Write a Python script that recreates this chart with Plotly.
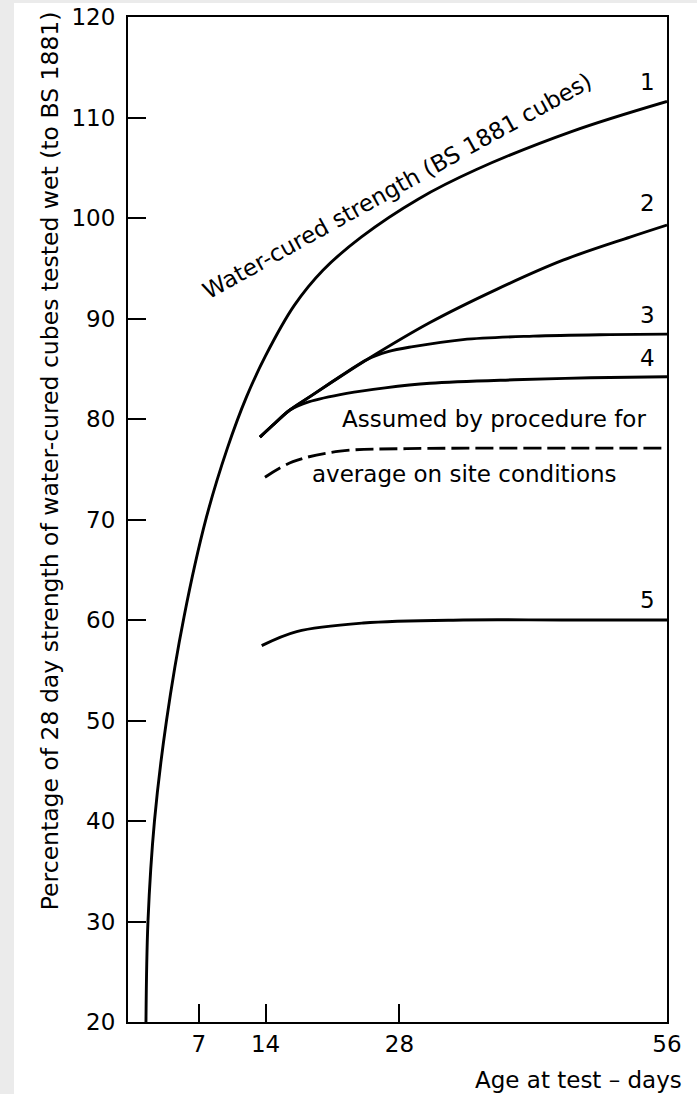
import plotly.graph_objects as go

# ---- data ----
# Curve 1: water-cured strength
c1_days = [1.48, 1.69, 2.37, 3.63, 5.46, 7.8, 10.0, 12.0, 14.0, 17.0, 20.0, 24.0, 30.0, 36.0, 46.0, 56.0]
c1_vals = [20.0, 30.0, 40.0, 50.0, 60.3, 70.2, 77.1, 82.2, 86.3, 91.3, 94.8, 98.1, 101.9, 104.8, 108.6, 111.6]

# Curve 2
c2_days = [13.41, 15.0, 16.55, 18.6, 20.74, 24.58, 31.2, 38.18, 45.12, 52.13, 56.0]
c2_vals = [78.2, 79.6, 80.9, 82.2, 83.55, 85.9, 89.6, 92.9, 95.8, 98.1, 99.3]

# Curve 3
c3_days = [13.41, 15.0, 16.55, 18.6, 20.74, 24.58, 26.8, 29.42, 34.65, 42.0, 50.0, 56.0]
c3_vals = [78.2, 79.6, 80.9, 82.2, 83.55, 85.9, 86.7, 87.2, 87.9, 88.25, 88.4, 88.45]

# Curve 4
c4_days = [13.41, 15.0, 16.55, 18.5, 22.48, 26.5, 31.2, 40.0, 48.0, 56.0]
c4_vals = [78.2, 79.6, 80.9, 81.7, 82.55, 83.1, 83.55, 83.9, 84.1, 84.2]

# Assumed (dashed)
ca_days = [13.93, 16.86, 21.78, 28.76, 40.0, 56.0]
ca_vals = [74.2, 75.75, 76.8, 77.05, 77.1, 77.1]

# Curve 5
c5_days = [13.59, 17.25, 24.22, 34.68, 45.0, 56.0]
c5_vals = [57.45, 58.85, 59.7, 60.0, 60.0, 60.0]

x_ticks = [7, 14, 28, 56]
y_ticks = [20, 30, 40, 50, 60, 70, 80, 90, 100, 110, 120]

curve_labels = ["1", "2", "3", "4", "5"]
label_x = [54.0, 54.0, 54.0, 54.0, 54.0]
label_y = [113.5, 101.45, 90.35, 86.05, 62.0]

FONT = "DejaVu Sans"
FS = 23

fig = go.Figure()

def add_curve(xs, ys, dash="solid"):
    fig.add_trace(go.Scatter(
        x=xs, y=ys, mode="lines",
        line=dict(color="black", width=2.9, shape="spline", smoothing=1.0, dash=dash),
        showlegend=False, hoverinfo="skip"))

add_curve(c1_days, c1_vals)
add_curve(c2_days, c2_vals)
add_curve(c3_days, c3_vals)
add_curve(c4_days, c4_vals)
add_curve(ca_days, ca_vals, dash="18px,6px")
add_curve(c5_days, c5_vals)

annotations = []
for t, xv, yv in zip(curve_labels, label_x, label_y):
    annotations.append(dict(x=xv, y=yv, xref="x", yref="y", text=t, showarrow=False,
                            font=dict(family=FONT, size=FS, color="black"),
                            xanchor="center", yanchor="middle"))

annotations += [
    dict(x=27.75, y=103.2, xref="x", yref="y", text="Water-cured strength (BS 1881 cubes)",
         textangle=-29, showarrow=False, font=dict(family=FONT, size=FS, color="black"),
         xanchor="center", yanchor="middle"),
    dict(x=37.85, y=80.0, xref="x", yref="y", text="Assumed by procedure for",
         showarrow=False, font=dict(family=FONT, size=FS, color="black"),
         xanchor="center", yanchor="middle"),
    dict(x=34.85, y=74.5, xref="x", yref="y", text="average on site conditions",
         showarrow=False, font=dict(family=FONT, size=FS, color="black"),
         xanchor="center", yanchor="middle"),
    dict(x=-0.1447, y=0.558, xref="paper", yref="paper",
         text="Percentage of 28 day strength of water-cured cubes tested wet (to BS 1881)",
         textangle=-90, showarrow=False, font=dict(family=FONT, size=23.5, color="black"),
         xanchor="center", yanchor="middle"),
    dict(x=1.0315, y=-0.0577, xref="paper", yref="paper", text="Age at test – days",
         showarrow=False, font=dict(family=FONT, size=FS, color="black"),
         xanchor="right", yanchor="middle"),
]

fig.update_layout(
    width=697, height=1094,
    margin=dict(l=128, r=30, t=17, b=72, pad=0, autoexpand=False),
    paper_bgcolor="#ebebeb",
    plot_bgcolor="white",
    showlegend=False,
    annotations=annotations,
    shapes=[dict(type="rect", xref="paper", yref="paper",
                 x0=-0.2115, x1=1.06, y0=-0.08, y1=1.0139,
                 fillcolor="white", line=dict(width=0), layer="below")],
    font=dict(family=FONT, size=FS, color="black"),
)

fig.update_xaxes(
    range=[-0.4, 56], tickmode="array", tickvals=x_ticks, ticktext=[str(v) for v in x_ticks],
    ticks="inside", ticklen=18, tickwidth=1.6, tickcolor="black",
    showline=True, linecolor="black", linewidth=2.2, mirror=True,
    showgrid=False, zeroline=False, automargin=False,
    tickfont=dict(family=FONT, size=FS, color="black"),
)
fig.update_yaxes(
    range=[20, 120], tickmode="array", tickvals=y_ticks, ticktext=[str(v) for v in y_ticks],
    ticks="inside", ticklen=18, tickwidth=1.6, tickcolor="black",
    showline=True, linecolor="black", linewidth=2.2, mirror=True,
    showgrid=False, zeroline=False, automargin=False,
    tickfont=dict(family=FONT, size=FS, color="black"),
    ticklabelstandoff=6,
)

fig.write_html(
    "out.html",
    config={"displayModeBar": False},
    post_script="document.body.style.margin='0';document.body.style.padding='0';"
                "document.body.style.overflow='hidden';document.body.style.background='#ebebeb';",
)
